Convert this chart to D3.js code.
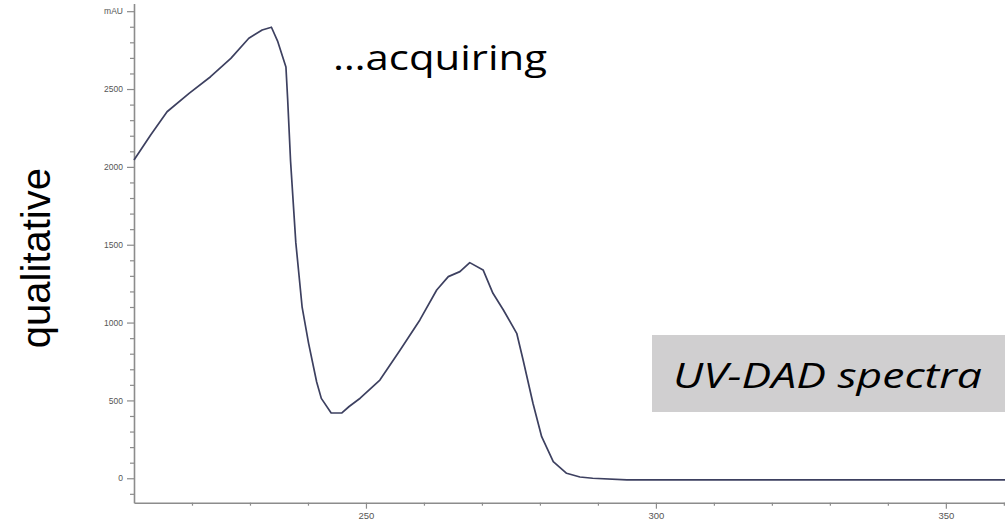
<!DOCTYPE html>
<html><head><meta charset="utf-8">
<script src="https://cdn.jsdelivr.net/npm/d3@7"></script>
<style>body{margin:0;background:#fff}svg{display:block}</style>
</head><body>
<svg id="c" width="1005" height="523"></svg>
<script>
// Spectrum (wavelength nm, absorbance mAU)
const wavelengths = [210.0,212.9,215.7,219.5,223.2,226.7,229.8,232.1,233.7,234.8,236.2,236.5,237.0,237.9,239.0,240.1,241.5,242.3,244.0,245.8,247.1,249.0,252.4,255.9,259.3,262.2,264.2,266.2,267.9,270.2,271.9,273.7,276.0,277.1,278.8,280.3,282.3,284.6,286.9,289.1,295.0,360.2];
const absorbance  = [2044,2206,2354,2472,2579,2697,2826,2879,2897,2804,2641,2433,2036,1515,1097,868,618,513,419,419,461,514,631,824,1017,1209,1295,1327,1385,1338,1188,1081,931,760,482,267,107,32,8,0,-11,-11];

const yMajorTicks = [0,500,1000,1500,2000,2500];
const yUnitTick = 3000;
const yUnitLabel = "mAU";
const yMinorTicks = d3.range(-100, 3000, 100).filter(v => v % 500 !== 0);
const xMajorTicks = [250,300,350];
const xMinorTicks = d3.range(220, 361, 10).filter(v => v % 50 !== 0);

const titleText = "\u2026acquiring";
const yTitle = "qualitative";
const boxText = "UV-DAD spectra";

const svg = d3.select("#c");
const x = d3.scaleLinear().domain([210, 360.2]).range([134, 1005]);
const y = d3.scaleLinear().domain([-157, 3050]).range([502.7, 3.4]);

const axisColor = "#8c8c8c";
const labelColor = "#555";

// Y axis
const gy = svg.append("g").attr("transform", `translate(${x(210)},0)`);
gy.call(d3.axisLeft(y).tickValues([...yMajorTicks, yUnitTick]).tickSize(7).tickSizeOuter(0).tickPadding(4)
  .tickFormat(d => d === yUnitTick ? yUnitLabel : d3.format("d")(d)));
const gyMinor = svg.append("g").attr("transform", `translate(${x(210)},0)`);
gyMinor.call(d3.axisLeft(y).tickValues(yMinorTicks).tickSize(4).tickSizeOuter(0).tickFormat(""));
gyMinor.select(".domain").remove();
[gy, gyMinor].forEach(g => {
  g.selectAll("path.domain").attr("stroke", axisColor).attr("stroke-width", 1.6);
  g.selectAll(".tick line").attr("stroke", axisColor).attr("stroke-width", 1.2);
});
gy.selectAll(".tick text").attr("fill", labelColor).attr("font-family", "Liberation Sans, Arial, sans-serif")
  .attr("font-size", 8.5);

// X axis
const gx = svg.append("g").attr("transform", `translate(0,${y(-157)})`);
gx.call(d3.axisBottom(x).tickValues(xMajorTicks).tickSize(6).tickSizeOuter(0).tickPadding(4).tickFormat(d3.format("d")));
const gxMinor = svg.append("g").attr("transform", `translate(0,${y(-157)})`);
gxMinor.call(d3.axisBottom(x).tickValues(xMinorTicks).tickSize(3).tickSizeOuter(0).tickFormat(""));
gxMinor.select(".domain").remove();
[gx, gxMinor].forEach(g => {
  g.selectAll("path.domain").attr("stroke", axisColor).attr("stroke-width", 1.6);
  g.selectAll(".tick line").attr("stroke", axisColor).attr("stroke-width", 1.2);
});
gx.selectAll(".tick text").attr("fill", labelColor).attr("font-family", "Liberation Sans, Arial, sans-serif")
  .attr("font-size", 9.5);

// Spectrum line
const data = wavelengths.map((w, i) => ({w, a: absorbance[i]}));
svg.append("path").datum(data)
  .attr("fill", "none").attr("stroke", "#3d4060").attr("stroke-width", 1.7).attr("stroke-linejoin", "round")
  .attr("d", d3.line().x(d => x(d.w)).y(d => y(d.a)));

// Texts
svg.append("text").attr("x", 333).attr("y", 70)
  .attr("font-family", "Open Sans, Lato, sans-serif").attr("font-size", 34)
  .attr("textLength", 214).attr("lengthAdjust", "spacingAndGlyphs")
  .attr("fill", "#000").text(titleText);

svg.append("text").attr("transform", "translate(50,168) rotate(-90)")
  .attr("text-anchor", "end")
  .attr("font-family", "Liberation Sans, Arial, sans-serif").attr("font-size", 40)
  .attr("fill", "#000").text(yTitle);

svg.append("rect").attr("x", 652).attr("y", 335).attr("width", 353).attr("height", 77).attr("fill", "#d0cfd0");
svg.append("text").attr("x", 673).attr("y", 388)
  .attr("font-family", "Open Sans, Lato, sans-serif").attr("font-style", "italic").attr("font-size", 35)
  .attr("textLength", 309).attr("lengthAdjust", "spacingAndGlyphs")
  .attr("fill", "#000").text(boxText);
</script>
</body></html>
